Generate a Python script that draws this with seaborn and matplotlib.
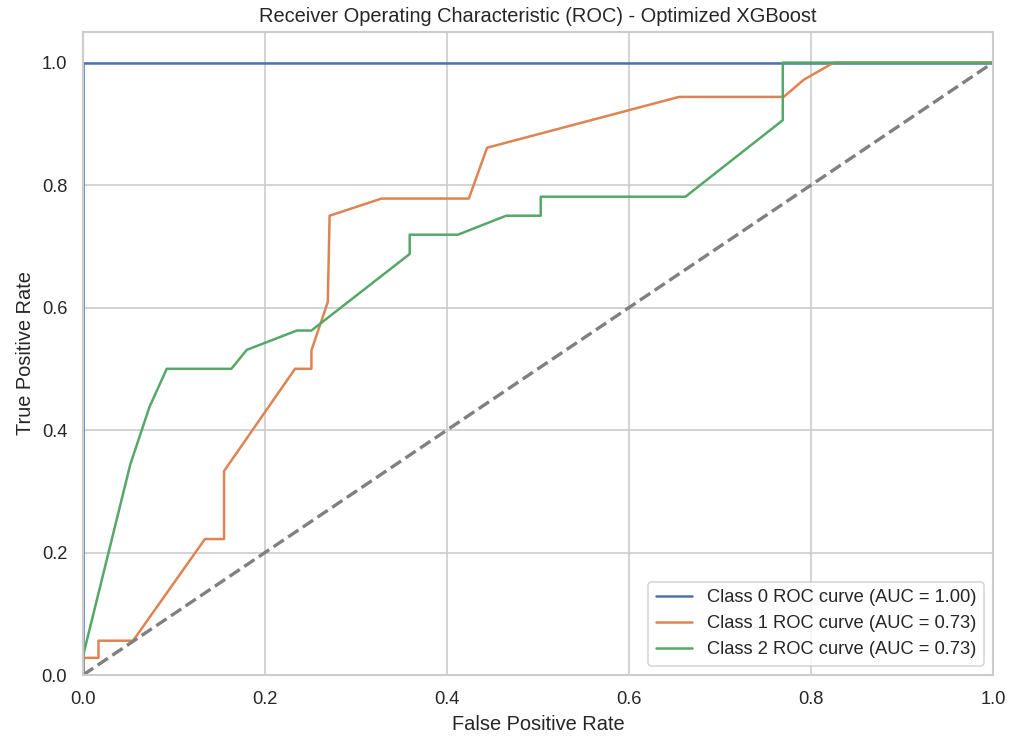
import numpy as np
import pandas as pd
import matplotlib
matplotlib.use("Agg")
import matplotlib.pyplot as plt
import seaborn as sns

# ROC curve points (false positive rate, true positive rate) per class
class0_fpr = [0.0, 0.0, 1.0]
class0_tpr = [0.0, 1.0, 1.0]

class1_fpr = [0.0, 0.0, 0.017, 0.017, 0.055, 0.134, 0.155, 0.155, 0.233, 0.251,
              0.251, 0.269, 0.271, 0.328, 0.424, 0.444, 0.655, 0.770, 0.792, 0.825, 1.0]
class1_tpr = [0.0, 0.028, 0.028, 0.056, 0.056, 0.222, 0.222, 0.333, 0.500, 0.500,
              0.530, 0.609, 0.750, 0.778, 0.778, 0.861, 0.944, 0.944, 0.972, 1.0, 1.0]

class2_fpr = [0.0, 0.0, 0.052, 0.073, 0.092, 0.163, 0.180, 0.235, 0.251, 0.359,
              0.359, 0.412, 0.465, 0.503, 0.503, 0.662, 0.769, 0.769, 1.0]
class2_tpr = [0.0, 0.031, 0.344, 0.4375, 0.500, 0.500, 0.531, 0.5625, 0.5625, 0.6875,
              0.719, 0.719, 0.750, 0.750, 0.781, 0.781, 0.906, 1.0, 1.0]

class_names = ["Class 0", "Class 1", "Class 2"]
auc_values = [1.00, 0.73, 0.73]

sns.set_theme(style="whitegrid")
plt.rcParams["font.family"] = ["Liberation Sans", "DejaVu Sans"]

curves = [(class0_fpr, class0_tpr), (class1_fpr, class1_tpr), (class2_fpr, class2_tpr)]
frames = []
for name, auc, (fpr, tpr) in zip(class_names, auc_values, curves):
    label = f"{name} ROC curve (AUC = {auc:.2f})"
    frames.append(pd.DataFrame({"fpr": fpr, "tpr": tpr, "curve": label,
                                "order": np.arange(len(fpr))}))
roc = pd.concat(frames, ignore_index=True)

fig = plt.figure(figsize=(1015 / 120, 736 / 120), dpi=120)
ax = fig.add_axes([83 / 1015, 1 - 675 / 736, (993 - 83) / 1015, (675 - 32) / 736])

palette = sns.color_palette("deep", 3)
sns.lineplot(data=roc, x="fpr", y="tpr", hue="curve", palette=palette,
             sort=False, estimator=None, units="curve", lw=1.5, ax=ax)
ax.plot([0, 1], [0, 1], color="gray", lw=2, linestyle="--")

ax.set_xlim(0.0, 1.0)
ax.set_ylim(0.0, 1.05)
ax.set_xlabel("False Positive Rate")
ax.set_ylabel("True Positive Rate")
ax.set_title("Receiver Operating Characteristic (ROC) - Optimized XGBoost")
ax.legend(loc="lower right", title=None)

fig.savefig("out.png", dpi=120)
